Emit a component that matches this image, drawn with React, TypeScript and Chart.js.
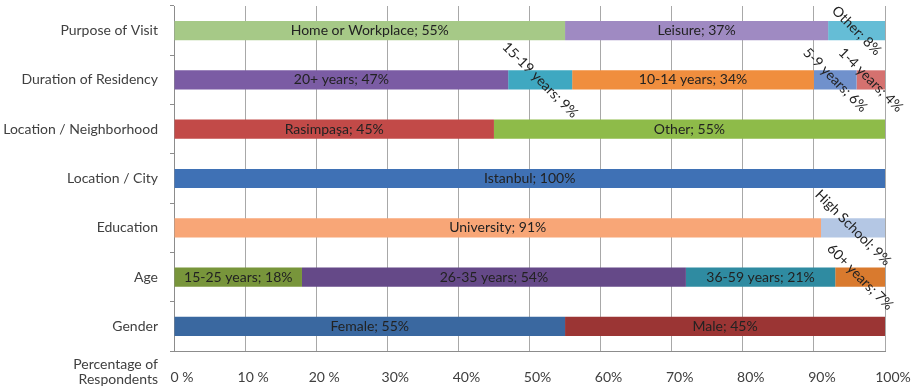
import React, { useEffect, useRef } from 'react';
import { Chart, registerables } from 'chart.js';

Chart.register(...registerables);

const categories = [
  'Purpose of Visit',
  'Duration of Residency',
  'Location / Neighborhood',
  'Location / City',
  'Education',
  'Age',
  'Gender',
];

const purposeLabels = ['Home or Workplace', 'Leisure', 'Other'];
const purposeValues = [55, 37, 8];
const purposeColors = ['#A6C987', '#9F8AC2', '#65BDD6'];

const durationLabels = ['20+ years', '15-19 years', '10-14 years', '5-9 years', '1-4 years'];
const durationValues = [47, 9, 34, 6, 4];
const durationColors = ['#7B5CA4', '#3FA8C1', '#F08E3E', '#7091CC', '#D5716F'];

const neighborhoodLabels = ['Rasimpaşa', 'Other'];
const neighborhoodValues = [45, 55];
const neighborhoodColors = ['#C24A48', '#8EBB49'];

const cityLabels = ['Istanbul'];
const cityValues = [100];
const cityColors = ['#3F71B5'];

const educationLabels = ['University', 'High School'];
const educationValues = [91, 9];
const educationColors = ['#F8A677', '#B4C7E4'];

const ageLabels = ['15-25 years', '26-35 years', '36-59 years', '60+ years'];
const ageValues = [18, 54, 21, 7];
const ageColors = ['#78953B', '#654988', '#2F8BA1', '#D97A2E'];

const genderLabels = ['Female', 'Male'];
const genderValues = [55, 45];
const genderColors = ['#3A68A0', '#9B3534'];

const xTickLabels = ['0 %', '10 %', '20 %', '30%', '40%', '50%', '60%', '70%', '80%', '90%', '100%'];
const axisTitleLines = ['Percentage of', 'Respondents'];

const rows = [
  { labels: purposeLabels, values: purposeValues, colors: purposeColors },
  { labels: durationLabels, values: durationValues, colors: durationColors },
  { labels: neighborhoodLabels, values: neighborhoodValues, colors: neighborhoodColors },
  { labels: cityLabels, values: cityValues, colors: cityColors },
  { labels: educationLabels, values: educationValues, colors: educationColors },
  { labels: ageLabels, values: ageValues, colors: ageColors },
  { labels: genderLabels, values: genderValues, colors: genderColors },
];

const FONT = 'Lato, "Open Sans", sans-serif';

const segLabelPlugin = {
  id: 'segLabels',
  afterDatasetsDraw(chart: any) {
    const ctx = chart.ctx;
    ctx.save();
    ctx.font = `14px ${FONT}`;
    ctx.fillStyle = '#222222';
    ctx.textAlign = 'center';
    ctx.textBaseline = 'middle';
    chart.data.datasets.forEach((ds: any, di: number) => {
      const meta = chart.getDatasetMeta(di);
      meta.data.forEach((el: any, i: number) => {
        const v = ds.data[i];
        if (v == null) return;
        const text = `${ds.segLabels[i]}; ${v}%`;
        const { x, y, base } = el.getProps(['x', 'y', 'base'], true);
        const cx = (x + base) / 2;
        ctx.save();
        ctx.translate(cx, y);
        if (v < 10) ctx.rotate(Math.PI / 4);
        ctx.fillText(text, 0, 0);
        ctx.restore();
      });
    });
    const yS = chart.scales.y;
    const xS = chart.scales.x;
    ctx.font = `14px ${FONT}`;
    ctx.fillStyle = '#404040';
    ctx.textAlign = 'right';
    ctx.fillText(axisTitleLines[0], yS.right - 16, xS.top + 13);
    ctx.fillText(axisTitleLines[1], yS.right - 16, xS.top + 28);
    ctx.restore();
  },
};

export default function App() {
  const ref = useRef<HTMLCanvasElement | null>(null);
  useEffect(() => {
    document.body.style.margin = '0';
    const datasets = [0, 1, 2, 3, 4].map((s) => ({
      label: `seg${s}`,
      data: rows.map((r) => (r.values[s] != null ? r.values[s] : null)),
      backgroundColor: rows.map((r) => r.colors[s] || 'transparent'),
      segLabels: rows.map((r) => r.labels[s] || ''),
      borderWidth: 0,
      barPercentage: 0.39,
      categoryPercentage: 1,
    }));
    const chart = new Chart(ref.current as HTMLCanvasElement, {
      type: 'bar',
      data: { labels: categories, datasets: datasets as any },
      options: {
        indexAxis: 'y',
        animation: false,
        responsive: false,
        maintainAspectRatio: false,
        layout: { padding: { top: 6, right: 27, bottom: 0, left: 0 } },
        plugins: { legend: { display: false }, tooltip: { enabled: false } },
        scales: {
          x: {
            stacked: true,
            min: 0,
            max: 100,
            ticks: {
              stepSize: 10,
              padding: 18,
              labelOffset: 8,
              color: '#404040',
              font: { family: FONT, size: 14 },
              callback: (v: any) => xTickLabels[Math.round(Number(v) / 10)],
              maxRotation: 0,
            },
            grid: { color: '#a8a8a8', lineWidth: 1, drawTicks: false },
            border: { color: '#8c8c8c', width: 1 },
            afterFit: (s: any) => {
              s.height = 37;
              s.paddingLeft = 0;
              s.paddingRight = 0;
            },
          },
          y: {
            stacked: true,
            ticks: {
              padding: 12,
              color: '#404040',
              font: { family: FONT, size: 14 },
            },
            grid: {
              offset: true,
              drawOnChartArea: false,
              drawTicks: true,
              tickLength: 4,
              color: '#8c8c8c',
            },
            border: { color: '#8c8c8c', width: 1 },
            afterFit: (s: any) => {
              s.width = 174;
              s.paddingTop = 0;
              s.paddingBottom = 0;
            },
          },
        },
      },
      plugins: [segLabelPlugin],
    });
    return () => chart.destroy();
  }, []);
  return (
    <div style={{ width: 912, height: 388 }}>
      <canvas ref={ref} width={912} height={388} style={{ display: 'block' }} />
    </div>
  );
}
